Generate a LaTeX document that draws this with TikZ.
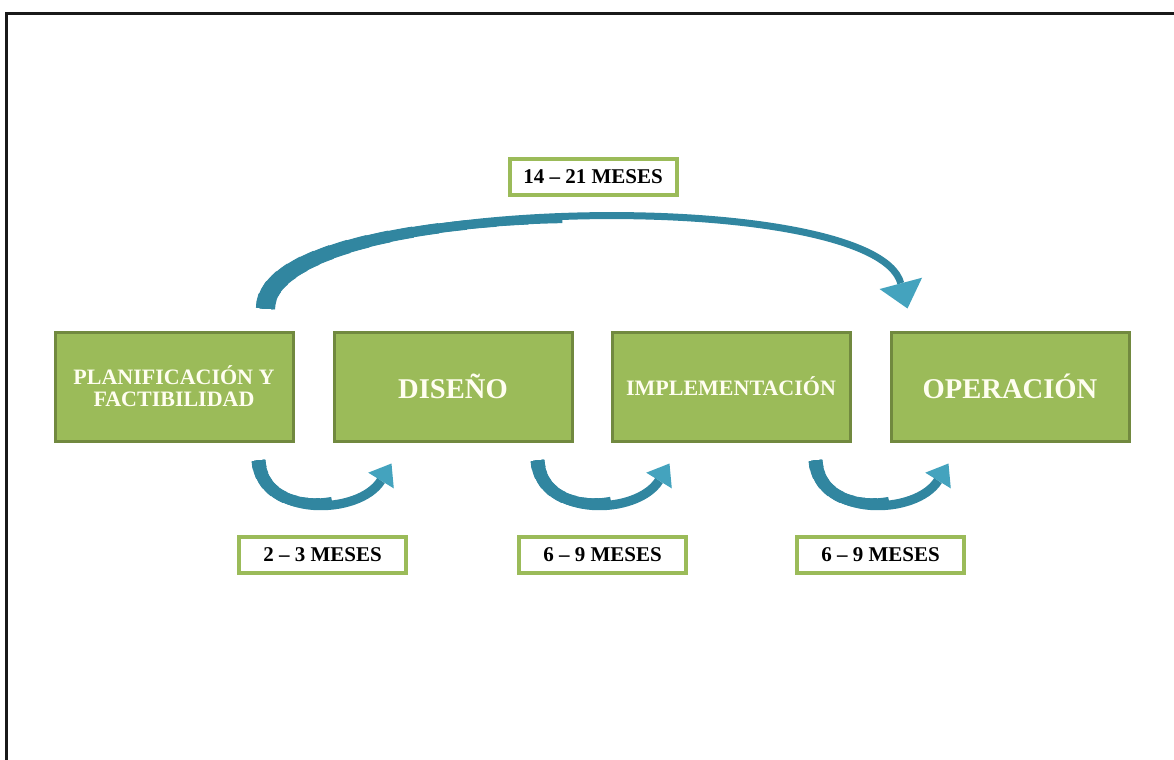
\documentclass[tikz,border=0pt]{standalone}
\usepackage{fontspec}
\setmainfont{Liberation Serif}
\usepackage{tikz}
\usetikzlibrary{arrows.meta}
\definecolor{boxgreen}{HTML}{9BBB59}
\definecolor{boxedge}{HTML}{71893F}
\definecolor{arrowteal}{HTML}{3186A0}
\definecolor{arrowtip}{HTML}{44A3BE}

\begin{document}
\begin{tikzpicture}
	[x=0.5pt, y=-0.5pt,
	box_style/.style={rectangle, draw=boxedge, line width=1.5pt, fill=boxgreen, minimum width=119pt, minimum height=54.5pt, text=white!94!yellow, align=center, inner sep=2pt},
	small_text/.style={font=\fontsize{11}{11}\selectfont\bfseries},
	big_text/.style={font=\fontsize{14.3}{16}\selectfont\bfseries},
	label_style/.style={rectangle, draw=boxgreen, line width=2pt, fill=white, minimum width=83.5pt, minimum height=18pt, font=\fontsize{10.5}{12}\selectfont\bfseries},
	thick_start/.style 2 args={postaction={draw=arrowteal, -, line width=#1, dash pattern=on #2 off 3000pt}},
	arrow_style/.style={draw=arrowteal, line width=4.6pt, -{Triangle[length=10pt, width=15pt, line width=0pt, color=arrowtip]},
		thick_start={7pt}{4pt}, thick_start={6.7pt}{8pt}, thick_start={6.4pt}{13pt}, thick_start={6.1pt}{18pt},
		thick_start={5.8pt}{24pt}, thick_start={5.5pt}{30pt}, thick_start={5.2pt}{36pt}, thick_start={4.95pt}{42pt},
		thick_start={4.75pt}{48pt}},
	long_arrow_style/.style={draw=arrowteal, line width=3.5pt, -{Triangle[length=13pt, width=22pt, line width=0pt, color=arrowtip]},
		thick_start={9.6pt}{6pt}, thick_start={9.2pt}{12pt}, thick_start={8.8pt}{18pt}, thick_start={8.4pt}{24pt},
		thick_start={8pt}{31pt}, thick_start={7.6pt}{38pt}, thick_start={7.2pt}{46pt}, thick_start={6.8pt}{55pt},
		thick_start={6.4pt}{65pt}, thick_start={6pt}{76pt}, thick_start={5.6pt}{88pt}, thick_start={5.2pt}{101pt},
		thick_start={4.8pt}{115pt}, thick_start={4.4pt}{130pt}, thick_start={4.05pt}{146pt}, thick_start={3.75pt}{163pt}}]
	\useasboundingbox (0,0) rectangle (1174,760);
	\draw[line width=1.2pt, black!90] (6.5,760) -- (6.5,13.5) -- (1174,13.5);

	\node[box_style, small_text] (plan) at (174,386.5) {PLANIFICACIÓN Y\\FACTIBILIDAD};
	\node[box_style, big_text] (dis) at (453,386.5) {DISEÑO};
	\node[box_style, small_text] (impl) at (731,386.5) {IMPLEMENTACIÓN};
	\node[box_style, big_text] (oper) at (1010,386.5) {OPERACIÓN};

	\node[label_style] (t_total) at (593,177) {14 – 21 MESES};
	\node[label_style] (t_plan) at (322.5,555) {2 – 3 MESES};
	\node[label_style] (t_dis) at (602.5,555) {6 – 9 MESES};
	\node[label_style] (t_impl) at (880.5,555) {6 – 9 MESES};

	\draw[long_arrow_style] ([shift={(-29,-22)}]plan.north east) .. controls +(0,-114) and +(-33,-124) .. ([shift={(18,-22)}]oper.north west);
	\draw[arrow_style] ([shift={(-36,18)}]plan.south east) .. controls +(4,58) and +(-32,52) .. ([shift={(59,21)}]dis.south west);
	\draw[arrow_style] ([shift={(-36,18)}]dis.south east) .. controls +(4,58) and +(-32,52) .. ([shift={(59,21)}]impl.south west);
	\draw[arrow_style] ([shift={(-36,18)}]impl.south east) .. controls +(4,58) and +(-32,52) .. ([shift={(59,21)}]oper.south west);
\end{tikzpicture}
\end{document}
